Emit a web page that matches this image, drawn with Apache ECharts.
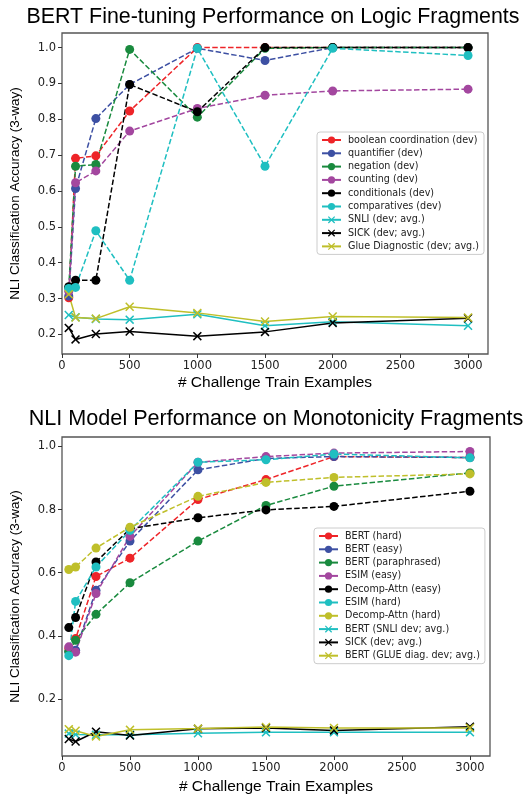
<!DOCTYPE html>
<html>
<head>
<meta charset="utf-8">
<script src="https://cdn.jsdelivr.net/npm/echarts@6/dist/echarts.min.js"></script>
<style>
html, body { margin: 0; padding: 0; background: #fff; }
#chart { width: 524px; height: 796px; }
</style>
</head>
<body>
<div id="chart"></div>
<script>
// shared x values (# challenge train examples)
let trainSizes = [50, 100, 250, 500, 1000, 1500, 2000, 3000];
let xTicks = [0, 500, 1000, 1500, 2000, 2500, 3000];
let yTicksTop = [0.2, 0.3, 0.4, 0.5, 0.6, 0.7, 0.8, 0.9, 1.0];
let yTicksBottom = [0.2, 0.4, 0.6, 0.8, 1.0];

// top chart: BERT on logic fragments
let booleanCoord = [0.302, 0.691, 0.698, 0.823, 1.0, 1.0, 1.0, 1.0];
let quantifier   = [0.307, 0.607, 0.802, 0.897, 0.998, 0.964, 1.0, 1.0];
let negation     = [0.33, 0.669, 0.674, 0.995, 0.806, 0.998, 1.0, 1.0];
let counting     = [0.32, 0.623, 0.656, 0.767, 0.83, 0.867, 0.879, 0.884];
let conditionals = [0.333, 0.351, 0.351, 0.897, 0.821, 1.0, 1.0, 1.0];
let comparatives = [0.328, 0.331, 0.489, 0.351, 0.998, 0.669, 0.998, 0.978];
let snliTop      = [0.254, 0.248, 0.243, 0.241, 0.256, 0.224, 0.235, 0.224];
let sickTop      = [0.218, 0.186, 0.201, 0.208, 0.195, 0.207, 0.232, 0.245];
let glueTop      = [0.312, 0.247, 0.244, 0.277, 0.260, 0.236, 0.250, 0.247];

// bottom chart: models on monotonicity fragments
let bertHard       = [0.36, 0.391, 0.588, 0.646, 0.832, 0.895, 0.968, 0.965];
let bertEasy       = [0.35, 0.354, 0.544, 0.700, 0.926, 0.962, 0.968, 0.965];
let bertPara       = [0.35, 0.386, 0.468, 0.568, 0.700, 0.813, 0.874, 0.916];
let esimEasy       = [0.365, 0.348, 0.534, 0.715, 0.950, 0.968, 0.979, 0.984];
let decompEasy     = [0.426, 0.458, 0.634, 0.739, 0.774, 0.799, 0.810, 0.858];
let esimHard       = [0.337, 0.509, 0.618, 0.734, 0.950, 0.958, 0.976, 0.964];
let decompHard     = [0.610, 0.618, 0.678, 0.744, 0.842, 0.886, 0.902, 0.913];
let bertSnli       = [0.090, 0.087, 0.086, 0.086, 0.091, 0.094, 0.094, 0.094];
let sickBottom     = [0.073, 0.065, 0.096, 0.084, 0.105, 0.108, 0.100, 0.112];
let bertGlue       = [0.104, 0.099, 0.081, 0.102, 0.106, 0.111, 0.108, 0.108];

let red = '#ee2428', blue = '#3d50a3', green = '#198a3e', purple = '#a3479f',
    black = '#000000', cyan = '#1fbfc1', olive = '#bfbf2a';

let xMark = 'path://M0,1.2 L1.2,0 L5,3.8 L8.8,0 L10,1.2 L6.2,5 L10,8.8 L8.8,10 L5,6.2 L1.2,10 L0,8.8 L3.8,5 Z';

function mkSeries(name, vals, color, dashed, grid) {
    return {
        name: name,
        type: 'line',
        xAxisIndex: grid,
        yAxisIndex: grid,
        data: trainSizes.map((x, i) => [x, vals[i]]),
        symbol: dashed ? 'circle' : xMark,
        symbolSize: 9,
        itemStyle: { color: color },
        lineStyle: { color: color, width: 1.5, type: dashed ? [5.5, 2.4] : 'solid' },
        emphasis: { disabled: true }
    };
}

let series = [
    mkSeries('boolean coordination (dev)', booleanCoord, red, true, 0),
    mkSeries('quantifier (dev)', quantifier, blue, true, 0),
    mkSeries('negation (dev)', negation, green, true, 0),
    mkSeries('counting (dev)', counting, purple, true, 0),
    mkSeries('conditionals (dev)', conditionals, black, true, 0),
    mkSeries('comparatives (dev)', comparatives, cyan, true, 0),
    mkSeries('SNLI (dev; avg.)', snliTop, cyan, false, 0),
    mkSeries('SICK (dev; avg.)', sickTop, black, false, 0),
    mkSeries('Glue Diagnostic (dev; avg.)', glueTop, olive, false, 0),

    mkSeries('BERT (hard)', bertHard, red, true, 1),
    mkSeries('BERT (easy)', bertEasy, blue, true, 1),
    mkSeries('BERT (paraphrased)', bertPara, green, true, 1),
    mkSeries('ESIM (easy)', esimEasy, purple, true, 1),
    mkSeries('Decomp-Attn (easy)', decompEasy, black, true, 1),
    mkSeries('ESIM (hard)', esimHard, cyan, true, 1),
    mkSeries('Decomp-Attn (hard)', decompHard, olive, true, 1),
    mkSeries('BERT (SNLI dev; avg.)', bertSnli, cyan, false, 1),
    mkSeries('SICK (dev; avg.)', sickBottom, black, false, 1),
    mkSeries('BERT (GLUE diag. dev; avg.)', bertGlue, olive, false, 1)
];

let tickFont = { fontFamily: 'DejaVu Sans', fontSize: 11.5, color: '#222' };

function mkX(grid) {
    return {
        type: 'value', gridIndex: grid, min: 0, max: 3147.5,
        name: '# Challenge Train Examples',
        nameLocation: 'middle',
        nameGap: grid == 0 ? 21 : 23,
        nameTextStyle: { fontFamily: 'Liberation Sans', fontSize: 15.5, color: '#000' },
        axisLine: { show: false },
        axisTick: { show: true, length: 4, customValues: xTicks, lineStyle: { color: '#333' } },
        axisLabel: Object.assign({ customValues: xTicks, margin: 6, formatter: v => String(v) }, tickFont),
        splitLine: { show: false }
    };
}

function mkY(grid, min, max, ticks) {
    return {
        type: 'value', gridIndex: grid, min: min, max: max,
        name: 'NLI Classification Accuracy (3-way)',
        nameLocation: 'middle',
        nameGap: 40,
        nameTextStyle: { fontFamily: 'Liberation Sans', fontSize: 13.5, color: '#000' },
        axisLine: { show: false },
        axisTick: { show: true, length: 4, customValues: ticks, lineStyle: { color: '#333' } },
        axisLabel: Object.assign({ customValues: ticks, margin: 6, formatter: v => v.toFixed(1) }, tickFont),
        splitLine: { show: false }
    };
}

function mkLegend(names, left, top) {
    return {
        data: names,
        orient: 'vertical',
        left: left, top: top,
        itemWidth: 19, itemHeight: 9, itemGap: 3.3,
        padding: [3, 5, 3, 4],
        backgroundColor: '#fff',
        borderColor: '#ccc', borderWidth: 1, borderRadius: 3,
        lineStyle: { type: 'solid' },
        selectedMode: false,
        textStyle: { fontFamily: 'DejaVu Sans', fontSize: 9.6, color: '#222', padding: [0, 0, 0, 2] }
    };
}

let myChart = echarts.init(document.getElementById('chart'));
let option = {
    animation: false,
    backgroundColor: '#fff',
    title: [
        { text: 'BERT Fine-tuning Performance on Logic Fragments', left: 268, top: 2, textAlign: 'center',
          textStyle: { fontFamily: 'Liberation Sans', fontWeight: 'normal', fontSize: 21.4, color: '#000' } },
        { text: 'NLI Model Performance on Monotonicity Fragments', left: 271, top: 403, textAlign: 'center',
          textStyle: { fontFamily: 'Liberation Sans', fontWeight: 'normal', fontSize: 21.6, color: '#000' } }
    ],
    grid: [
        { left: 59, right: 36, top: 33, bottom: 442, show: true, borderColor: '#555', borderWidth: 1.3, backgroundColor: 'transparent' },
        { left: 61, right: 34, top: 437, bottom: 39, show: true, borderColor: '#555', borderWidth: 1.3, backgroundColor: 'transparent' }
    ],
    xAxis: [mkX(0), mkX(1)],
    yAxis: [mkY(0, 0.1453, 1.0407, yTicksTop), mkY(1, 0.019, 1.030, yTicksBottom)],
    legend: [
        mkLegend(series.slice(0, 9).map(s => s.name), 317, 132),
        mkLegend(series.slice(9).map(s => s.name), 314, 528)
    ],
    series: series
};
myChart.setOption(option);
</script>
</body>
</html>
